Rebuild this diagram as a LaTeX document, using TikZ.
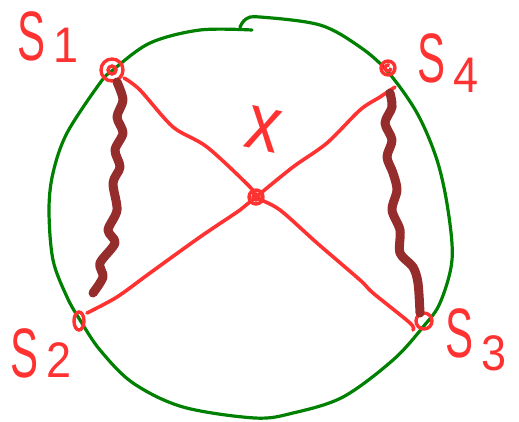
\documentclass[tikz,border=0pt]{standalone}
\usepackage{graphicx}
\usepackage{fontspec}
\setmainfont{Liberation Sans}
\definecolor{redpen}{RGB}{255,50,50}
\definecolor{greenpen}{RGB}{0,128,0}
\definecolor{wavypen}{RGB}{150,45,45}
\newcommand{\slab}[2]{\scalebox{0.6}[1]{\fontsize{70}{70}\selectfont S}\hspace{8pt}\raisebox{-#2pt}{\scalebox{0.9}[1]{\fontsize{50}{50}\selectfont #1}}}
\begin{document}
\begin{tikzpicture}[x=1pt,y=-1pt,
  greenline/.style={draw=greenpen,line width=3.2pt,line cap=round,line join=round},
  redline/.style={draw=redpen,line width=3.6pt,line cap=round,line join=round},
  wavyline/.style={draw=wavypen,line width=9pt,line cap=round,line join=round},
  ring/.style={draw=redpen,line width=3.4pt},
  lbl/.style={text=redpen,inner sep=0pt,anchor=base west}]
\useasboundingbox (0,0) rectangle (519,421);
% points
\coordinate (S1) at (112,70);
\coordinate (S4) at (388,68);
\coordinate (S2) at (79,321);
\coordinate (S3) at (424,321);
\coordinate (X) at (256,197);
% green circle
\draw[greenline] plot[smooth,tension=0.55] coordinates {(240,27) (246,19) (260,17) (320,25) (360,47) (388,72) (417,113) (437,160) (448,210) (452,260) (440,303) (423,327) (393,360) (343,397) (293,413) (255,418) (183,407) (133,383) (100,350) (80,320) (67,297) (53,260) (49,210) (53,173) (67,133) (100,83) (113,70) (150,43) (200,30) (252,30)};
% red lines
\draw[redline] plot[smooth] coordinates {(124,78) (140,90) (173,127) (207,147) (250,187) (X) (280,210) (317,243) (360,280) (373,293) (410,323) (413,330)};
\draw[redline] plot[smooth] coordinates {(395,87) (380,97) (360,110) (327,143) (293,167) (X) (240,210) (200,237) (150,273) (117,297) (87,313)};
% rings
\draw[ring] (S1) circle (11);
\draw[ring] (S1) circle (4);
\draw[ring] (S4) circle (7);
\draw[ring] (S4) ++(3,0) arc (0:300:3);
\draw[ring] (X) circle (7);
\draw[ring] (X) circle (3);
\draw[ring] (S2) ellipse (5 and 9);
\draw[ring] (S3) circle (8);
% wavy lines
\draw[wavyline] plot[smooth] coordinates {(117,82) (123,100) (117,117) (123,133) (115,150) (120,167) (113,183) (117,210) (108,230) (115,243) (100,263) (103,277) (93,293)};
\draw[wavyline] plot[smooth] coordinates {(390,93) (392,107) (385,123) (392,140) (387,157) (393,173) (397,190) (392,210) (400,230) (400,253) (413,267) (418,283) (420,313)};
% labels
\node[lbl] (l1) at (17,60) {\slab{1}{2}};
\node[lbl] (l4) at (417,82) {\slab{4}{10}};
\node[lbl] (l2) at (10,377) {\slab{2}{0}};
\node[lbl] (l3) at (445,357) {\slab{3}{13}};
\node[text=redpen,inner sep=0pt,rotate=-12] (lx) at (264,129) {\scalebox{0.85}[1]{\fontsize{80}{80}\selectfont x}};
\end{tikzpicture}
\end{document}
